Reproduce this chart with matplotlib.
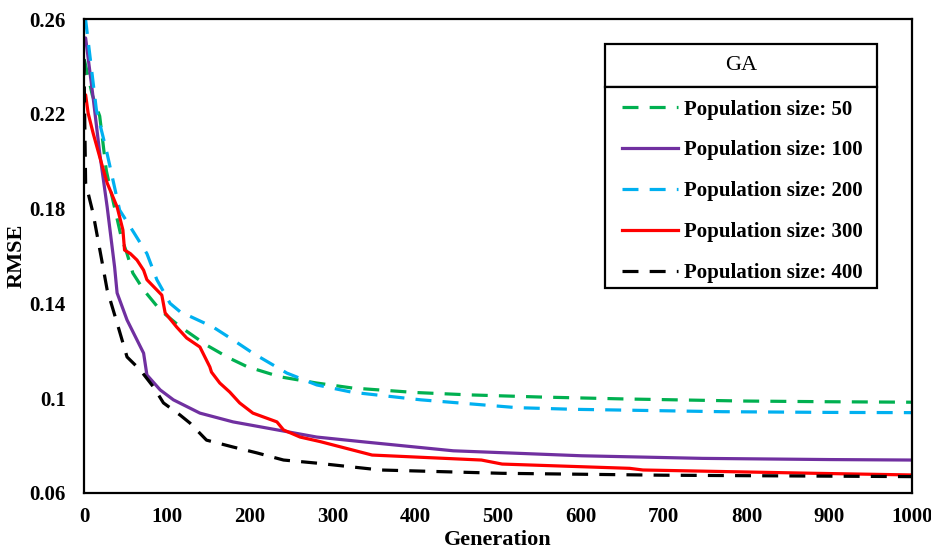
import matplotlib
matplotlib.use("Agg")
import matplotlib.pyplot as plt
from matplotlib.patches import Rectangle

plt.rcParams['font.family'] = 'Liberation Serif'

# population size 50
gen_50 = [0, 1, 10, 19, 27, 33, 45, 52, 59, 72, 92, 116, 148, 175, 197, 237, 281, 324, 400, 465, 550, 650, 796, 900, 1000]
rmse_50 = [0.243, 0.242, 0.228, 0.219, 0.196, 0.1865, 0.168, 0.161, 0.1528, 0.1457, 0.1372, 0.1302, 0.1224, 0.117,
           0.1133, 0.109, 0.1064, 0.1043, 0.1024, 0.1014, 0.1005, 0.0997, 0.0988, 0.0985, 0.0983]

# population size 100
gen_100 = [0, 2, 11, 19, 28, 37, 40, 52, 64, 72, 76, 92, 108, 140, 180, 221, 281, 334, 446, 601, 747, 900, 1000]
rmse_100 = [0.252, 0.252, 0.227, 0.2034, 0.1807, 0.1553, 0.1444, 0.133, 0.1246, 0.119, 0.1098, 0.1035, 0.0993,
            0.0937, 0.090, 0.0874, 0.0836, 0.0817, 0.0778, 0.0757, 0.0746, 0.0741, 0.0739]

# population size 200
gen_200 = [0, 2, 15, 27, 43, 60, 76, 88, 104, 116, 156, 180, 204, 245, 281, 324, 407, 523, 592, 771, 900, 1000]
rmse_200 = [0.26, 0.2596, 0.2216, 0.2047, 0.1794, 0.170, 0.161, 0.150, 0.140, 0.1365, 0.130, 0.1246, 0.119,
            0.1106, 0.1056, 0.1025, 0.0993, 0.096, 0.0953, 0.0943, 0.094, 0.0939]

# population size 300
gen_300 = [0, 2, 5, 11, 19, 28, 40, 47, 49, 56, 64, 72, 76, 94, 98, 112, 124, 140, 152, 154, 164, 176, 188, 204,
           233, 241, 261, 285, 348, 480, 505, 659, 675, 883, 1000]
rmse_300 = [0.228, 0.228, 0.2203, 0.2119, 0.2018, 0.1908, 0.1807, 0.171, 0.1625, 0.161, 0.1583, 0.154, 0.150,
            0.1435, 0.136, 0.130, 0.1254, 0.1216, 0.1132, 0.111, 0.1064, 0.1026, 0.098, 0.0937, 0.090, 0.0866,
            0.0836, 0.0817, 0.076, 0.0739, 0.0722, 0.0704, 0.0697, 0.0683, 0.0676]

# population size 400
gen_400 = [0, 1, 2, 11, 17, 23, 28, 40, 52, 68, 84, 96, 116, 128, 148, 180, 209, 241, 281, 358, 505, 700, 1000]
rmse_400 = [0.243, 0.215, 0.1908, 0.178, 0.1667, 0.1553, 0.1457, 0.1317, 0.1174, 0.1119, 0.1047, 0.098, 0.0929,
            0.0895, 0.0823, 0.0794, 0.0769, 0.0739, 0.0726, 0.0697, 0.0683, 0.0675, 0.0669]

x_ticks = [0, 100, 200, 300, 400, 500, 600, 700, 800, 900, 1000]
y_ticks = [0.06, 0.1, 0.14, 0.18, 0.22, 0.26]
y_tick_labels = ['0.06', '0.1', '0.14', '0.18', '0.22', '0.26']

fig = plt.figure(figsize=(9.31, 5.51), dpi=100)
ax = fig.add_axes([0.0902, 0.1053, 0.8894, 0.8602])

lw = 2.3
dash = (5, 3.5)
ax.plot(gen_50, rmse_50, color='#00B050', lw=lw, dashes=dash, label='Population size: 50')
ax.plot(gen_100, rmse_100, color='#7030A0', lw=lw, label='Population size: 100')
ax.plot(gen_200, rmse_200, color='#00B0F0', lw=lw, dashes=dash, label='Population size: 200')
ax.plot(gen_300, rmse_300, color='#FF0000', lw=lw, label='Population size: 300')
ax.plot(gen_400, rmse_400, color='black', lw=lw, dashes=dash, label='Population size: 400')

ax.set_xlim(0, 1000)
ax.set_ylim(0.06, 0.26)
ax.set_xticks(x_ticks)
ax.set_yticks(y_ticks)
ax.set_yticklabels(y_tick_labels)
ax.tick_params(length=0, labelsize=15)
ax.tick_params(axis='y', pad=13)
ax.tick_params(axis='x', pad=10)
for lab in ax.get_xticklabels() + ax.get_yticklabels():
    lab.set_fontweight('bold')
for sp in ax.spines.values():
    sp.set_linewidth(1.6)

ax.set_xlabel('Generation', fontsize=16, fontweight='bold', labelpad=2)
ax.set_ylabel('RMSE', fontsize=16, fontweight='bold', labelpad=2)

# legend boxes (title box + entries box)
ax.add_patch(Rectangle((0.629, 0.8565), 0.329, 0.0905, transform=ax.transAxes, facecolor='white',
                       edgecolor='black', lw=1.6, zorder=4, clip_on=False))
ax.add_patch(Rectangle((0.629, 0.4325), 0.329, 0.424, transform=ax.transAxes, facecolor='white',
                       edgecolor='black', lw=1.6, zorder=4, clip_on=False))
ax.text(0.7935, 0.902, 'GA', transform=ax.transAxes, ha='center', va='center', fontsize=16, zorder=6)

leg = ax.legend(loc='upper left', bbox_to_anchor=(0.650, 0.83), frameon=False,
                prop={'weight': 'bold', 'size': 15}, handlelength=2.7, handletextpad=0.25,
                labelspacing=1.0, borderpad=0, borderaxespad=0)
leg.set_zorder(6)

fig.savefig('out.png', dpi=100)
